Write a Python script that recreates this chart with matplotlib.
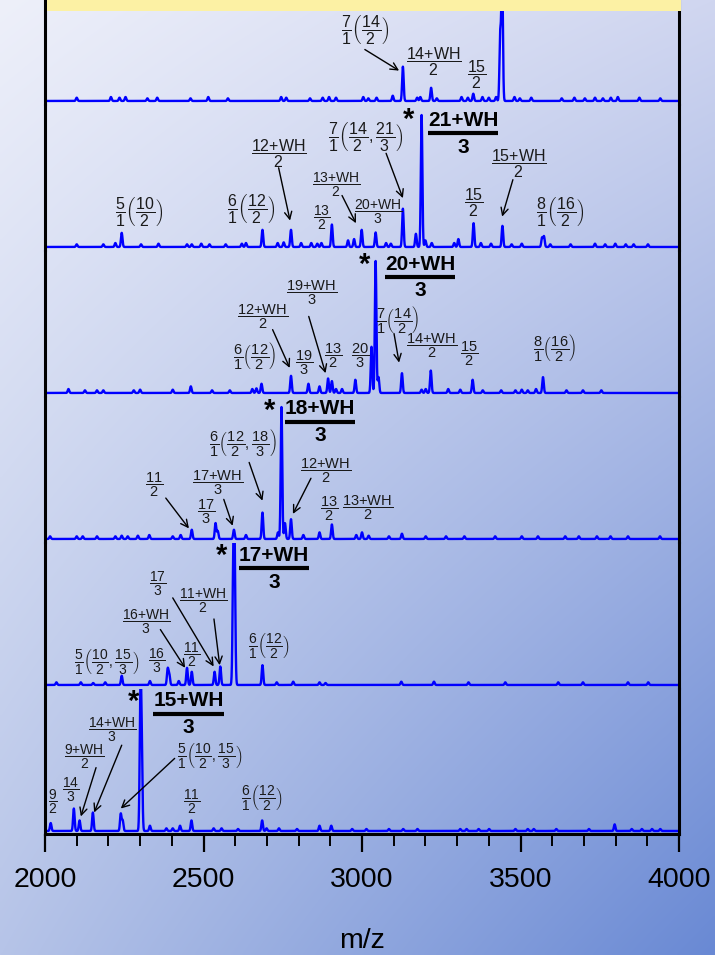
import numpy as np
import matplotlib
matplotlib.use('Agg')
import matplotlib.pyplot as plt
from matplotlib.patches import Rectangle
from matplotlib.ticker import MultipleLocator

plt.rcParams['font.family'] = ['Liberation Sans', 'DejaVu Sans']
plt.rcParams['mathtext.fontset'] = 'custom'
plt.rcParams['mathtext.rm'] = 'Liberation Sans'
plt.rcParams['mathtext.it'] = 'Liberation Sans:italic'
plt.rcParams['mathtext.bf'] = 'Liberation Sans:bold'
plt.rcParams['mathtext.default'] = 'regular'

# peak lists (m/z, intensity relative to base peak), spectra from top to bottom
peaks_1 = [(2100, .025), (2208, .03), (2235, .025), (2254, .03), (2323, .02), (2354, .025),
           (2459, .02), (2515, .03), (2577, .02), (2745, .03), (2761, .025), (2836, .02),
           (2876, .025), (2896, .03), (2918, .025), (3004, .03), (3020, .02), (3046, .025),
           (3097, .04), (3129, .26), (3174, .025), (3184, .03), (3218, .10), (3236, .02),
           (3314, .03), (3334, .025), (3351, .055), (3380, .03), (3400, .025), (3423, .03),
           (3436, .5), (3442, 1.0), (3481, .03), (3498, .02), (3534, .025), (3630, .02),
           (3670, .025), (3703, .02), (3735, .025), (3760, .02), (3785, .025), (3807, .03),
           (3875, .025), (3941, .02)]
peaks_2 = [(2100, .02), (2184, .02), (2222, .03), (2242, .107), (2303, .02), (2358, .025),
           (2448, .02), (2463, .02), (2493, .025), (2519, .02), (2570, .02), (2621, .025),
           (2634, .03), (2686, .13), (2734, .03), (2753, .035), (2776, .13), (2808, .03),
           (2840, .03), (2859, .025), (2872, .03), (2905, .17), (2956, .05), (2975, .06),
           (2999, .13), (3043, .11), (3076, .03), (3091, .025), (3129, .29), (3170, .10),
           (3188, 1.0), (3200, .05), (3220, .03), (3291, .03), (3304, .06), (3352, .18),
           (3375, .03), (3407, .025), (3443, .16), (3472, .02), (3504, .025), (3568, .07),
           (3574, .08), (3594, .02), (3658, .02), (3735, .025), (3767, .02), (3799, .025),
           (3832, .02), (3857, .02), (3902, .02)]
peaks_3 = [(2074, .03), (2126, .02), (2164, .02), (2184, .02), (2280, .02), (2300, .025),
           (2403, .025), (2460, .05), (2527, .02), (2583, .02), (2654, .03), (2667, .035),
           (2683, .07), (2776, .13), (2831, .07), (2866, .05), (2893, .11), (2905, .09),
           (2918, .03), (2937, .03), (2979, .10), (3030, .35), (3043, 1.0), (3052, .12),
           (3126, .15), (3188, .025), (3201, .03), (3217, .17), (3272, .03), (3310, .025),
           (3349, .10), (3381, .02), (3439, .02), (3484, .02), (3504, .025), (3523, .02),
           (3549, .03), (3571, .12), (3645, .02), (3697, .02), (3755, .02)]
peaks_4 = [(2016, .02), (2100, .02), (2119, .02), (2164, .02), (2222, .02), (2242, .025),
           (2261, .02), (2293, .025), (2329, .03), (2403, .02), (2428, .03), (2463, .07),
           (2538, .12), (2545, .06), (2596, .07), (2634, .03), (2686, .20), (2735, .05),
           (2746, 1.0), (2757, .12), (2776, .15), (2815, .03), (2866, .05), (2905, .11),
           (2982, .03), (3000, .05), (3021, .025), (3085, .02), (3126, .04), (3201, .02),
           (3265, .02), (3323, .02), (3420, .02), (3504, .02), (3555, .02), (3641, .02),
           (3684, .02), (3741, .02), (3784, .02), (3839, .02), (3940, .02)]
peaks_5 = [(2036, .02), (2113, .02), (2152, .015), (2190, .02), (2242, .07), (2331, .03),
           (2387, .12), (2392, .08), (2422, .03), (2448, .13), (2463, .10), (2535, .10),
           (2553, .14), (2594, .85), (2598, 1.0), (2686, .15), (2731, .02), (2783, .025),
           (2866, .02), (2885, .015), (3124, .025), (3227, .025), (3336, .02), (3452, .02),
           (3619, .02), (3697, .02), (3839, .02), (3903, .02)]
peaks_6 = [(2018, .06), (2091, .17), (2109, .08), (2151, .14), (2239, .13), (2245, .08),
           (2301, 1.0), (2305, .6), (2331, .04), (2383, .02), (2403, .02), (2426, .04),
           (2462, .08), (2532, .02), (2557, .02), (2609, .015), (2685, .08), (2699, .02),
           (2738, .02), (2795, .015), (2866, .04), (2903, .04), (2969, .015), (3014, .015),
           (3085, .015), (3130, .015), (3175, .015), (3310, .015), (3330, .015), (3368, .015),
           (3401, .015), (3484, .015), (3523, .015), (3542, .015), (3613, .015), (3716, .015),
           (3797, .05), (3851, .015), (3883, .015), (3915, .015), (3941, .015)]

# peak labels: (mathtext, m/z, height, size)
labels_1 = [(r'$\dfrac{7}{1}\left(\dfrac{14}{2}\right)$', 3009, .54, 11.5),
            (r'$\dfrac{14{+}WH}{2}$', 3227, .30, 11.5),
            (r'$\dfrac{15}{2}$', 3363, .20, 11.5)]
labels_2 = [(r'$\dfrac{5}{1}\left(\dfrac{10}{2}\right)$', 2297, .27, 11.5),
            (r'$\dfrac{6}{1}\left(\dfrac{12}{2}\right)$', 2651, .29, 11.5),
            (r'$\dfrac{12{+}WH}{2}$', 2737, .71, 11.5),
            (r'$\dfrac{13{+}WH}{2}$', 2918, .47, 10),
            (r'$\dfrac{13}{2}$', 2874, .22, 10),
            (r'$\dfrac{20{+}WH}{3}$', 3051, .27, 10),
            (r'$\dfrac{7}{1}\left(\dfrac{14}{2},\dfrac{21}{3}\right)$', 3010, .84, 11.5),
            (r'$\dfrac{15}{2}$', 3354, .34, 11.5),
            (r'$\dfrac{15{+}WH}{2}$', 3495, .63, 11.5),
            (r'$\dfrac{8}{1}\left(\dfrac{16}{2}\right)$', 3625, .27, 11.5)]
labels_3 = [(r'$\dfrac{19{+}WH}{3}$', 2842, .76, 10.5),
            (r'$\dfrac{12{+}WH}{2}$', 2685, .58, 10.5),
            (r'$\dfrac{6}{1}\left(\dfrac{12}{2}\right)$', 2662, .28, 10.5),
            (r'$\dfrac{19}{3}$', 2819, .23, 10.5),
            (r'$\dfrac{13}{2}$', 2909, .28, 10.5),
            (r'$\dfrac{20}{3}$', 2994, .28, 10.5),
            (r'$\dfrac{7}{1}\left(\dfrac{14}{2}\right)$', 3114, .55, 10.5),
            (r'$\dfrac{14{+}WH}{2}$', 3220, .36, 10.5),
            (r'$\dfrac{15}{2}$', 3337, .30, 10.5),
            (r'$\dfrac{8}{1}\left(\dfrac{16}{2}\right)$', 3609, .34, 10.5)]
labels_4 = [(r'$\dfrac{6}{1}\left(\dfrac{12}{2},\dfrac{18}{3}\right)$', 2624, .72, 10.5),
            (r'$\dfrac{12{+}WH}{2}$', 2886, .52, 10.5),
            (r'$\dfrac{11}{2}$', 2345, .41, 10.5),
            (r'$\dfrac{17{+}WH}{3}$', 2546, .43, 10.5),
            (r'$\dfrac{17}{3}$', 2508, .21, 10.5),
            (r'$\dfrac{13}{2}$', 2896, .23, 10.5),
            (r'$\dfrac{13{+}WH}{2}$', 3019, .24, 10.5)]
labels_5 = [(r'$\dfrac{17}{3}$', 2356, .77, 10),
            (r'$\dfrac{11{+}WH}{2}$', 2500, .64, 10),
            (r'$\dfrac{16{+}WH}{3}$', 2319, .48, 10),
            (r'$\dfrac{11}{2}$', 2464, .23, 10),
            (r'$\dfrac{16}{3}$', 2352, .18, 10),
            (r'$\dfrac{5}{1}\left(\dfrac{10}{2},\dfrac{15}{3}\right)$', 2196, .18, 10),
            (r'$\dfrac{6}{1}\left(\dfrac{12}{2}\right)$', 2705, .30, 10)]
labels_6 = [(r'$\dfrac{14{+}WH}{3}$', 2211, .77, 10),
            (r'$\dfrac{9{+}WH}{2}$', 2125, .56, 10),
            (r'$\dfrac{14}{3}$', 2081, .31, 10),
            (r'$\dfrac{9}{2}$', 2026, .22, 10),
            (r'$\dfrac{5}{1}\left(\dfrac{10}{2},\dfrac{15}{3}\right)$', 2518, .57, 10),
            (r'$\dfrac{11}{2}$', 2462, .22, 10),
            (r'$\dfrac{6}{1}\left(\dfrac{12}{2}\right)$', 2686, .25, 10)]

# arrows: (from m/z, from height, to m/z, to height)
arrows_1 = [(3009, .39, 3117, .23)]
arrows_2 = [(2737, .60, 2773, .20), (2937, .39, 2981, .18),
            (3076, .71, 3129, .37), (3476, .51, 3442, .23)]
arrows_3 = [(2832, .58, 2885, .15), (2718, .48, 2772, .19), (3101, .45, 3117, .23)]
arrows_4 = [(2644, .58, 2686, .29), (2839, .46, 2782, .19),
            (2381, .31, 2454, .08), (2564, .30, 2592, .10)]
arrows_5 = [(2403, .66, 2532, .14), (2533, .50, 2551, .15), (2364, .42, 2442, .13)]
arrows_6 = [(2242, .65, 2155, .14), (2161, .48, 2113, .11), (2409, .55, 2239, .17)]

# starred precursor: (numerator, denominator, left m/z, bar height, star m/z, star height)
precursors = [None,
              ('21+WH', '3', 3208, .86, 3148, .96),
              ('20+WH', '3', 3073, .88, 3009, .97),
              ('18+WH', '3', 2757, .89, 2707, .97),
              ('17+WH', '3', 2612, .886, 2558, .98),
              ('15+WH', '3', 2342, .89, 2278, .98)]

spectra = [peaks_1, peaks_2, peaks_3, peaks_4, peaks_5, peaks_6]
labels = [labels_1, labels_2, labels_3, labels_4, labels_5, labels_6]
arrows = [arrows_1, arrows_2, arrows_3, arrows_4, arrows_5, arrows_6]

W, H = 715, 955
fig = plt.figure(figsize=(W / 100, H / 100), dpi=100)

# background wash
bg = fig.add_axes([0, 0, 1, 1], zorder=0)
u = np.linspace(0, 1, 240)[None, :, None]
v = np.linspace(0, 1, 320)[:, None, None]
tl = np.array([238, 240, 250]) / 255
tr = np.array([208, 214, 240]) / 255
bl = np.array([182, 196, 232]) / 255
br = np.array([105, 137, 212]) / 255
wash = (1 - u) * (1 - v) * tl + u * (1 - v) * tr + (1 - u) * v * bl + u * v * br
bg.imshow(wash, aspect='auto', extent=(0, 1, 0, 1), interpolation='bilinear')
bg.set_axis_off()

mz = np.arange(2000, 4000.01, 0.5)


def profile(peaks):
    pos, ht = np.array(peaks).T
    return (ht[:, None] * np.exp(-0.5 * ((mz[None, :] - pos[:, None]) / 2.4) ** 2)).sum(0)


txt_kw = dict(ha='center', va='center', color='#1a1a1a', zorder=5)
bold_items = []
axes = []
for i in range(6):
    bottom_px = 104 + 146 * i
    ax = fig.add_axes([45 / W, 1 - bottom_px / H, 634 / W, 145 / H], zorder=2)
    ax.patch.set_visible(False)
    ax.plot(mz, profile(spectra[i]), color='#0000ff', lw=1.7, solid_joinstyle='round')
    ax.set_xlim(2000, 4000)
    ax.set_ylim(-0.023, 1.076)
    ax.set_yticks([])
    for side in ['top', 'bottom']:
        ax.spines[side].set_visible(False)
    for side in ['left', 'right']:
        ax.spines[side].set_linewidth(2.2)

    for tex, x, y, size in labels[i]:
        ax.text(x, y, tex, size=size, **txt_kw)
    for x0, y0, x1, y1 in arrows[i]:
        ax.annotate('', xy=(x1, y1), xytext=(x0, y0),
                    arrowprops=dict(arrowstyle='->', color='k', lw=1.0,
                                    mutation_scale=13, shrinkA=0, shrinkB=0))
    if precursors[i]:
        num, den, xl, yb, xs, ys = precursors[i]
        ax.text(xs, ys, '*', size=21, weight='bold', ha='center', va='center', zorder=5)
        t = ax.text(xl, yb + 0.025, num, size=15, weight='bold', ha='left',
                    va='bottom', zorder=5)
        bold_items.append((ax, t, den, yb))

    if i < 5:
        ax.tick_params(bottom=False, labelbottom=False)
    axes.append(ax)

ax = axes[-1]
ax.spines['bottom'].set_visible(True)
ax.spines['bottom'].set_linewidth(2.2)
ax.spines['bottom'].set_position(('data', -0.023))
ax.xaxis.set_major_locator(MultipleLocator(500))
ax.xaxis.set_minor_locator(MultipleLocator(100))
ax.tick_params(which='major', length=13, width=1.6, direction='out',
               labelsize=20.5, pad=11)
ax.tick_params(which='minor', length=8.5, width=1.4, direction='out')
fig.text(362 / W, 1 - 941 / H, 'm/z', ha='center', va='center', size=20.5)

# bold fraction bars sized to the numerator
fig.canvas.draw()
renderer = fig.canvas.get_renderer()
for ax, t, den, yb in bold_items:
    bb = t.get_window_extent(renderer)
    (x0, _), (x1, _) = ax.transData.inverted().transform([(bb.x0, 0), (bb.x1, 0)])
    ax.plot([x0, x1], [yb, yb], color='k', lw=3, solid_capstyle='butt', zorder=5)
    ax.text((x0 + x1) / 2, yb - 0.035, den, size=15, weight='bold', ha='center',
            va='top', zorder=5)

# title banner strip at the top edge
fig.add_artist(Rectangle((47 / W, 1 - 11 / H), 634 / W, 11 / H, transform=fig.transFigure,
                         facecolor='#fcf1a4', edgecolor='none', zorder=10))

fig.savefig('out.png', dpi=100)
